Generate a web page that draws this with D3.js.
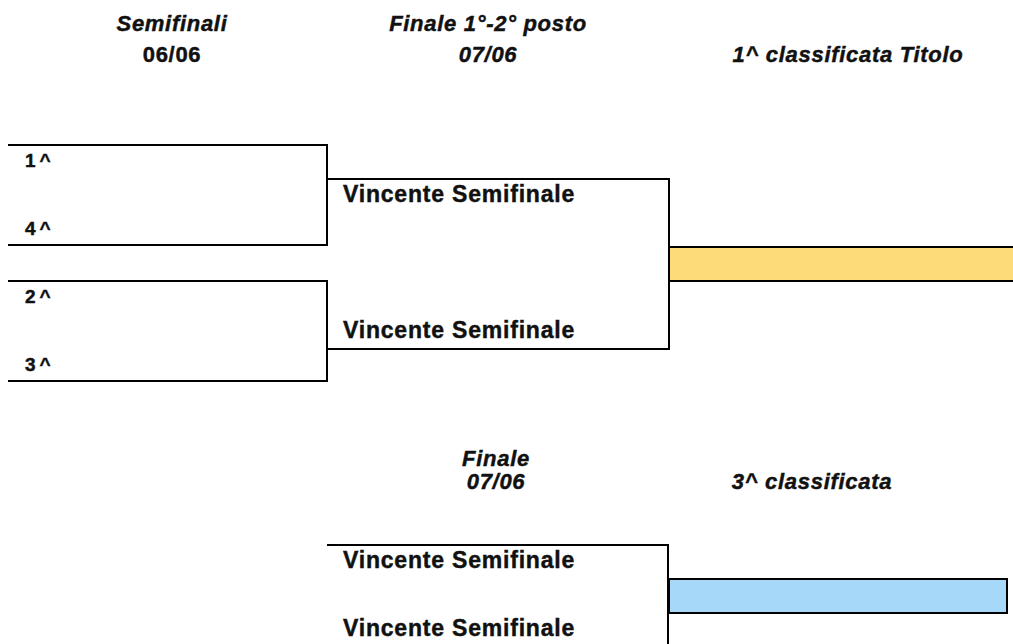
<!DOCTYPE html>
<html>
<head>
<meta charset="utf-8">
<script src="https://cdn.jsdelivr.net/npm/d3@7"></script>
<style>
  body { margin: 0; background: #fff; }
  text { font-family: "Liberation Sans", Arial, sans-serif; font-weight: bold; fill: #111; stroke: #111; stroke-width: 0.45px; }
</style>
</head>
<body>
<script>
// bracket content
var semiSeeds = ["1^", "4^", "2^", "3^"];
var semiMatches = [[0, 1], [2, 3]];
var finalEntrants = ["Vincente Semifinale", "Vincente Semifinale"];
var thirdEntrants = ["Vincente Semifinale", "Vincente Semifinale"];
var topTitles = ["Semifinali", "Finale 1°-2° posto", ""];
var topDates = ["06/06", "07/06", "1^ classificata Titolo"];
var bottomTitles = ["Finale", ""];
var bottomDates = ["07/06", "3^ classificata"];

var width = 1013, height = 644;

var svg = d3.select("body").append("svg")
    .attr("width", width)
    .attr("height", height);

// columns of the sheet
var col = d3.scaleOrdinal()
    .domain(["semi", "final", "winner", "end"])
    .range([8, 327, 669, 1013]);

// header centres
var headX = d3.scaleOrdinal().domain([0, 1, 2]).range([172, 488, 848]);
var headXB = d3.scaleOrdinal().domain([0, 1]).range([496, 812]);

// row grid (top bracket / third place bracket)
var row = d3.scaleLinear().domain([0, 1]).range([145, 179]);
var rowB = d3.scaleLinear().domain([0, 1]).range([545, 579]);

function bracket(x0, x1, y0, y1) {
    return "M" + x0 + "," + y0 + "H" + x1 + "V" + y1 + "H" + x0;
}

function header(sel, size) {
    sel.attr("text-anchor", "middle")
        .style("font-size", size + "px")
        .style("letter-spacing", "0.7px");
}

// headers
svg.selectAll(".title").data(topTitles).enter().append("text")
    .attr("x", function (d, i) { return headX(i); })
    .attr("y", 31)
    .call(header, 22)
    .style("font-style", "italic")
    .text(function (d) { return d; });

svg.selectAll(".date").data(topDates).enter().append("text")
    .attr("x", function (d, i) { return headX(i); })
    .attr("y", 62)
    .call(header, 22)
    .style("font-style", function (d, i) { return i === 0 ? "normal" : "italic"; })
    .text(function (d) { return d; });

svg.selectAll(".titleB").data(bottomTitles).enter().append("text")
    .attr("x", function (d, i) { return headXB(i); })
    .attr("y", 466)
    .call(header, 22)
    .style("font-style", "italic")
    .text(function (d) { return d; });

svg.selectAll(".dateB").data(bottomDates).enter().append("text")
    .attr("x", function (d, i) { return headXB(i); })
    .attr("y", 489)
    .call(header, 22)
    .style("font-style", "italic")
    .text(function (d) { return d; });

// fills
svg.append("rect")
    .attr("x", col("winner")).attr("y", row(3))
    .attr("width", col("end") - col("winner")).attr("height", row(4) - row(3))
    .attr("fill", "#fddb78");

svg.append("rect")
    .attr("x", col("winner")).attr("y", rowB(1))
    .attr("width", 1007 - col("winner")).attr("height", rowB(2) - rowB(1))
    .attr("fill", "#a6d8f9")
    .attr("stroke", "#000").attr("stroke-width", 2);

svg.append("path")
    .attr("d", "M" + col("winner") + "," + row(3) + "H" + col("end") +
        "M" + col("winner") + "," + row(4) + "H" + col("end"))
    .attr("fill", "none").attr("stroke", "#000").attr("stroke-width", 2);

// semifinal brackets
svg.selectAll(".semi").data(semiMatches).enter().append("path")
    .attr("d", function (d, i) {
        return bracket(col("semi"), col("final"), row(i * 4), row(i * 4 + 3) - 2);
    })
    .attr("fill", "none").attr("stroke", "#000").attr("stroke-width", 2);

svg.selectAll(".seed").data(semiSeeds).enter().append("text")
    .attr("x", 25)
    .attr("y", function (d, i) { return row(i * 2) + 22; })
    .style("font-size", "19px").style("letter-spacing", "4px")
    .text(function (d) { return d; });

// final bracket
svg.append("path")
    .attr("d", bracket(col("final"), col("winner"), row(1), row(6)))
    .attr("fill", "none").attr("stroke", "#000").attr("stroke-width", 2);

svg.selectAll(".fin").data(finalEntrants).enter().append("text")
    .attr("x", 343)
    .attr("y", function (d, i) { return row(1 + i * 4) + 23; })
    .style("font-size", "23px").style("letter-spacing", "0.8px")
    .text(function (d) { return d; });

// third place bracket
svg.append("path")
    .attr("d", bracket(col("final"), col("winner") - 1, rowB(0), height + 5))
    .attr("fill", "none").attr("stroke", "#000").attr("stroke-width", 2);

svg.selectAll(".third").data(thirdEntrants).enter().append("text")
    .attr("x", 343)
    .attr("y", function (d, i) { return rowB(i * 2) + 23; })
    .style("font-size", "23px").style("letter-spacing", "0.8px")
    .text(function (d) { return d; });
</script>
</body>
</html>
